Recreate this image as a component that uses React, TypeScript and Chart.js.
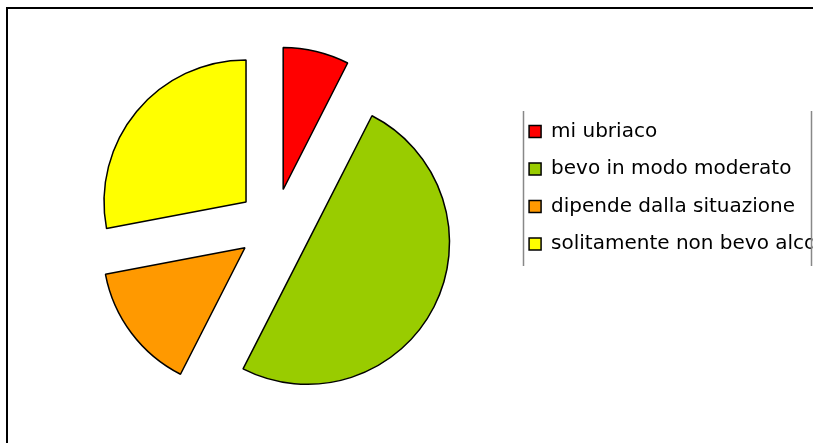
import React, { useEffect, useRef } from "react";
import { Chart, registerables } from "chart.js";

Chart.register(...registerables);

const categories = [
  "mi ubriaco",
  "bevo in modo moderato",
  "dipende dalla situazione",
  "solitamente non bevo alcolici",
];
const shares = [7.5, 50, 14.5, 28];
const sliceColors = ["#ff0000", "#99cc00", "#ff9900", "#ffff00"];

const EXPLODE = 37;
const CANVAS_W = 900;
const CANVAS_H = 443;

const explodePlugin = {
  id: "explodeSlices",
  beforeDatasetDraw(_chart: any, args: any) {
    args.meta.data.forEach((arc: any) => {
      const mid = (arc.startAngle + arc.endAngle) / 2;
      arc.$ox = arc.x;
      arc.$oy = arc.y;
      arc.x = arc.x + Math.cos(mid) * EXPLODE;
      arc.y = arc.y + Math.sin(mid) * EXPLODE;
    });
  },
  afterDatasetDraw(_chart: any, args: any) {
    args.meta.data.forEach((arc: any) => {
      arc.x = arc.$ox;
      arc.y = arc.$oy;
    });
  },
};

const framePlugin = {
  id: "frameAndLegendBox",
  beforeDraw(chart: any) {
    const ctx = chart.ctx;
    ctx.save();
    ctx.fillStyle = "#ffffff";
    ctx.fillRect(0, 0, chart.width, chart.height);
    ctx.strokeStyle = "#000000";
    ctx.lineWidth = 2;
    ctx.beginPath();
    ctx.moveTo(7, chart.height + 2);
    ctx.lineTo(7, 8);
    ctx.lineTo(chart.width + 2, 8);
    ctx.stroke();
    ctx.restore();
  },
  afterDraw(chart: any) {
    const ctx = chart.ctx;
    ctx.save();
    ctx.fillStyle = "#ffffff";
    ctx.fillRect(812.5, 100, chart.width, 180);
    ctx.strokeStyle = "#888888";
    ctx.lineWidth = 1.5;
    ctx.beginPath();
    ctx.moveTo(523.5, 111);
    ctx.lineTo(523.5, 266);
    ctx.moveTo(811.5, 111);
    ctx.lineTo(811.5, 266);
    ctx.stroke();
    ctx.restore();
  },
};

export default function App() {
  const canvasRef = useRef<HTMLCanvasElement | null>(null);

  useEffect(() => {
    if (!canvasRef.current) return;
    const chart = new Chart(canvasRef.current, {
      type: "pie",
      data: {
        labels: categories,
        datasets: [
          {
            data: shares,
            backgroundColor: sliceColors,
            borderColor: "#000000",
            borderWidth: 1.5,
            radius: 142,
          },
        ],
      },
      options: {
        responsive: false,
        animation: false,
        devicePixelRatio: 1,
        layout: { padding: { left: 37.5, right: 46, top: 104, bottom: 96 } },
        plugins: {
          tooltip: { enabled: false },
          legend: {
            position: "right",
            align: "start",
            labels: {
              boxWidth: 12,
              boxHeight: 12,
              padding: 17.5,
              color: "#000000",
              font: { family: "'DejaVu Sans'", size: 20 },
            },
          },
        },
      },
      plugins: [framePlugin, explodePlugin],
    });
    return () => chart.destroy();
  }, []);

  return (
    <div
      style={{
        position: "fixed",
        left: 0,
        top: 0,
        width: 813,
        height: 443,
        overflow: "hidden",
        background: "#ffffff",
      }}
    >
      <canvas
        ref={canvasRef}
        width={CANVAS_W}
        height={CANVAS_H}
        style={{ width: CANVAS_W, height: CANVAS_H, display: "block" }}
      />
    </div>
  );
}
